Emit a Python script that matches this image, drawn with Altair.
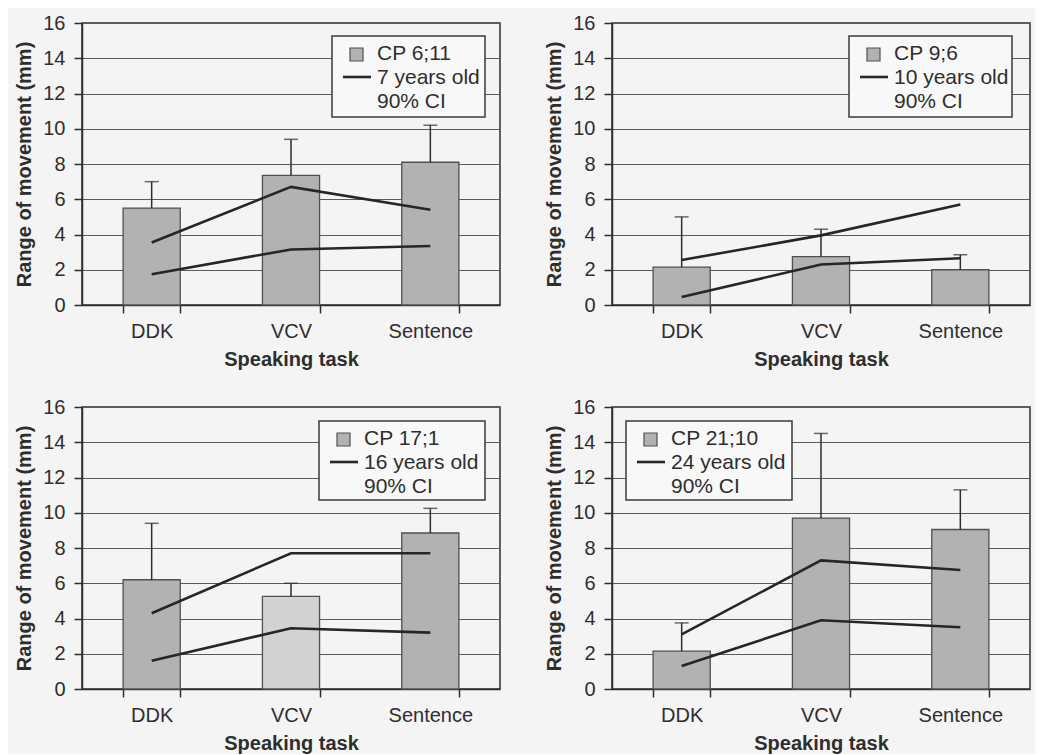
import altair as alt
import pandas as pd

tasks = ["DDK", "VCV", "Sentence"]
cp_labels = ["CP 6;11", "CP 9;6", "CP 17;1", "CP 21;10"]
age_labels = ["7 years old", "10 years old", "16 years old", "24 years old"]
cp_means = [[5.5, 7.35, 8.1], [2.15, 2.75, 2.0], [6.2, 5.25, 8.85], [2.15, 9.7, 9.05]]
cp_err_top = [[7.0, 9.4, 10.2], [5.0, 4.3, 2.85], [9.4, 6.0, 10.25], [3.75, 14.5, 11.3]]
ci_upper = [[3.55, 6.7, 5.4], [2.55, 3.95, 5.7], [4.3, 7.7, 7.7], [3.1, 7.3, 6.75]]
ci_lower = [[1.75, 3.15, 3.35], [0.45, 2.3, 2.65], [1.6, 3.45, 3.2], [1.3, 3.9, 3.5]]
y_ticks = [0, 2, 4, 6, 8, 10, 12, 14, 16]

W, H = 418, 282
FONT = "Liberation Sans"
INK = "#2e2e2e"
BG = "#f4f4f4"

# legend box (left, right, top, bottom) in pixels within each plot
legend_boxes = [(250, 403, 13, 94), (237, 400, 13, 94), (237, 403, 14, 93), (14, 180, 14, 93)]


def panel(i):
    bars_df = pd.DataFrame({"task": tasks, "mean": cp_means[i], "err": cp_err_top[i]})
    lines_df = pd.DataFrame({
        "task": tasks * 2,
        "value": ci_upper[i] + ci_lower[i],
        "bound": ["upper"] * 3 + ["lower"] * 3,
    })
    x = alt.X("task:N", sort=tasks,
              scale=alt.Scale(paddingInner=0.59, paddingOuter=0.295),
              axis=alt.Axis(title="Speaking task", tickBand="extent", labelAngle=0))
    y_scale = alt.Scale(domain=[0, 16], nice=False)
    y_axis = alt.Axis(title="Range of movement (mm)", values=y_ticks, labelOverlap=False)

    def Y(field):
        return alt.Y(field, scale=y_scale, axis=y_axis)

    if i == 2:
        fill = alt.condition(alt.datum.task == "VCV", alt.value("#d2d2d2"), alt.value("#b2b2b2"))
    else:
        fill = alt.value("#b2b2b2")

    bars = alt.Chart(bars_df).mark_bar(stroke="#505050", strokeWidth=1.3).encode(
        x=x, y=Y("mean:Q"), fill=fill)
    err = alt.Chart(bars_df).mark_rule(color=INK, strokeWidth=1.5).encode(
        x=x, y=Y("mean:Q"), y2="err:Q")
    cap = alt.Chart(bars_df).mark_tick(color=INK, thickness=1.5, size=14, orient="horizontal").encode(
        x=x, y=Y("err:Q"))
    lines = alt.Chart(lines_df).mark_line(color="#262626", strokeWidth=2.6).encode(
        x=x, y=Y("value:Q"), detail="bound:N")

    l, r, t, b = legend_boxes[i]
    one = alt.Data(values=[{}])
    box = alt.Chart(one).mark_rect(fill="#f8f8f8", stroke="#3a3a3a", strokeWidth=1.5).encode(
        x=alt.value(l), x2=alt.value(r), y=alt.value(t), y2=alt.value(b))
    swatch = alt.Chart(one).mark_rect(fill="#b2b2b2", stroke="#505050", strokeWidth=1.2).encode(
        x=alt.value(l + 18), x2=alt.value(l + 31), y=alt.value(t + 12), y2=alt.value(t + 25))
    lsw = alt.Chart(one).mark_rule(color="#262626", strokeWidth=2.6).encode(
        x=alt.value(l + 11), x2=alt.value(l + 39), y=alt.value(t + 41))
    legend_lines = [cp_labels[i], age_labels[i], "90% CI"]
    texts = [
        alt.Chart(one).mark_text(align="left", baseline="alphabetic", fontSize=21,
                                 font=FONT, color=INK, text=s).encode(
            x=alt.value(l + 45), y=alt.value(t + 24 + 24 * k))
        for k, s in enumerate(legend_lines)
    ]

    return alt.layer(bars, err, cap, lines, box, swatch, lsw, *texts).properties(width=W, height=H)


top = alt.hconcat(panel(0), panel(1), spacing=43)
bottom = alt.hconcat(panel(2), panel(3), spacing=43)
chart = alt.vconcat(top, bottom, spacing=26).properties(
    padding={"left": 6, "top": 4, "right": 4, "bottom": 0},
    background=BG,
).configure_view(
    stroke=INK, strokeWidth=1.5, fill=BG
).configure_axis(
    labelFont=FONT, titleFont=FONT, labelFontSize=20, titleFontSize=20,
    labelColor=INK, titleColor=INK, titleFontWeight="bold",
    domainColor=INK, domainWidth=1.5, tickColor=INK, tickWidth=1.5, tickSize=8,
).configure_axisY(
    grid=True, gridColor="#5a5a5a", gridWidth=1.2, titlePadding=8, labelPadding=9,
).configure_axisX(
    grid=False, titlePadding=8, labelPadding=8,
)

chart.save("out.html", embed_options={"renderer": "svg", "actions": False})
